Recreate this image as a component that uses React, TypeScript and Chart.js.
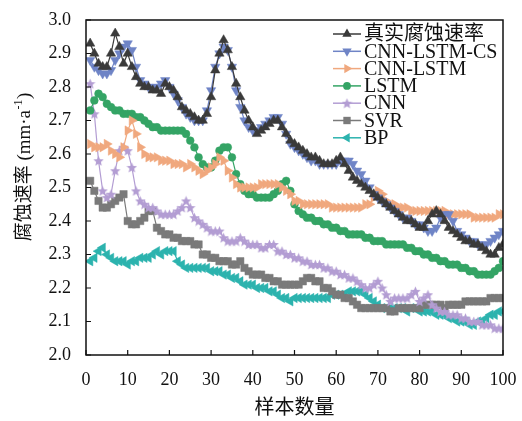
import React, { useEffect, useRef } from 'react';
import { Chart, registerables } from 'chart.js';

Chart.register(...registerables);

// ---------- data ----------
const sampleNo: number[] = Array.from({ length: 100 }, (_, i) => i + 1);

const xTickValues = [0, 10, 20, 30, 40, 50, 60, 70, 80, 90, 100];
const yTickValues = [2.0, 2.1, 2.2, 2.3, 2.4, 2.5, 2.6, 2.7, 2.8, 2.9, 3.0];

const seriesNames = ['真实腐蚀速率', 'CNN-LSTM-CS', 'CNN-LSTM', 'LSTM', 'CNN', 'SVR', 'BP'];

const realRate = [
  2.93, 2.90, 2.87, 2.86, 2.86, 2.90, 2.96, 2.92, 2.87, 2.90,
  2.86, 2.83, 2.81, 2.80, 2.80, 2.79, 2.79, 2.78, 2.81, 2.80,
  2.79, 2.77, 2.74, 2.73, 2.72, 2.71, 2.70, 2.70, 2.72, 2.77,
  2.85, 2.90, 2.94, 2.91, 2.86, 2.81, 2.77, 2.73, 2.70, 2.68,
  2.66, 2.67, 2.68, 2.69, 2.70, 2.70, 2.68, 2.66, 2.64, 2.63,
  2.62, 2.61, 2.60, 2.59, 2.59, 2.58, 2.57, 2.57, 2.57, 2.58,
  2.59, 2.57, 2.55, 2.53, 2.52, 2.51, 2.50, 2.49, 2.48, 2.47,
  2.46, 2.45, 2.44, 2.43, 2.42, 2.41, 2.40, 2.40, 2.39, 2.38,
  2.38, 2.40, 2.42, 2.43, 2.42, 2.40, 2.38, 2.37, 2.36, 2.35,
  2.34, 2.34, 2.33, 2.33, 2.32, 2.31, 2.30, 2.30, 2.32, 2.33,
];

const cnnLstmCs = [
  2.88, 2.86, 2.85, 2.84, 2.84, 2.85, 2.88, 2.90, 2.92, 2.93,
  2.91, 2.86, 2.82, 2.81, 2.80, 2.80, 2.80, 2.81, 2.82, 2.80,
  2.78, 2.76, 2.74, 2.72, 2.71, 2.70, 2.70, 2.70, 2.73, 2.79,
  2.86, 2.90, 2.92, 2.91, 2.86, 2.79, 2.74, 2.70, 2.68, 2.67,
  2.67, 2.68, 2.69, 2.70, 2.71, 2.71, 2.69, 2.66, 2.63, 2.62,
  2.61, 2.60, 2.59, 2.58, 2.58, 2.57, 2.57, 2.57, 2.57, 2.57,
  2.58, 2.58, 2.58, 2.57, 2.55, 2.54, 2.52, 2.50, 2.48, 2.47,
  2.46, 2.45, 2.44, 2.43, 2.42, 2.41, 2.41, 2.40, 2.39, 2.39,
  2.38, 2.37, 2.37, 2.38, 2.41, 2.42, 2.42, 2.40, 2.37, 2.36,
  2.35, 2.34, 2.34, 2.33, 2.33, 2.33, 2.34, 2.35, 2.36, 2.37,
];

const cnnLstm = [
  2.63, 2.62, 2.62, 2.62, 2.63, 2.61, 2.60, 2.59, 2.62, 2.67,
  2.70, 2.66, 2.62, 2.60, 2.59, 2.59, 2.59, 2.58, 2.58, 2.58,
  2.57, 2.57, 2.57, 2.56, 2.57, 2.56, 2.55, 2.54, 2.55, 2.56,
  2.57, 2.59, 2.58, 2.55, 2.53, 2.51, 2.50, 2.50, 2.50, 2.50,
  2.50, 2.51, 2.51, 2.51, 2.51, 2.51, 2.50, 2.49, 2.48, 2.46,
  2.46, 2.45, 2.45, 2.45, 2.45, 2.45, 2.45, 2.45, 2.44, 2.44,
  2.44, 2.44, 2.44, 2.44, 2.44, 2.44, 2.45, 2.45, 2.47, 2.49,
  2.48, 2.46, 2.45, 2.45, 2.44, 2.44, 2.44, 2.43, 2.43, 2.43,
  2.43, 2.43, 2.43, 2.43, 2.43, 2.43, 2.42, 2.42, 2.42, 2.42,
  2.42, 2.42, 2.41, 2.41, 2.41, 2.41, 2.41, 2.41, 2.42, 2.42,
];

const lstm = [
  2.73, 2.76, 2.78, 2.77, 2.75, 2.74, 2.73, 2.73, 2.72, 2.72,
  2.72, 2.71, 2.71, 2.70, 2.69, 2.68, 2.68, 2.67, 2.67, 2.67,
  2.67, 2.67, 2.67, 2.66, 2.64, 2.62, 2.59, 2.57, 2.56, 2.56,
  2.58, 2.61, 2.62, 2.62, 2.59, 2.54, 2.51, 2.49, 2.48, 2.48,
  2.47, 2.47, 2.47, 2.47, 2.48, 2.49, 2.51, 2.52, 2.49, 2.45,
  2.43, 2.42, 2.41, 2.41, 2.40, 2.40, 2.39, 2.39, 2.38, 2.38,
  2.37, 2.37, 2.36, 2.36, 2.36, 2.36, 2.35, 2.35, 2.34, 2.34,
  2.34, 2.33, 2.33, 2.33, 2.33, 2.33, 2.32, 2.32, 2.31, 2.31,
  2.30, 2.30, 2.29, 2.29, 2.28, 2.28, 2.27, 2.27, 2.27, 2.26,
  2.26, 2.25, 2.25, 2.24, 2.24, 2.24, 2.24, 2.25, 2.26, 2.28,
];

const cnn = [
  2.81, 2.72, 2.58, 2.49, 2.47, 2.48, 2.55, 2.61, 2.62, 2.61,
  2.56, 2.49, 2.46, 2.45, 2.44, 2.44, 2.43, 2.42, 2.42, 2.42,
  2.42, 2.43, 2.44, 2.46, 2.44, 2.41, 2.40, 2.39, 2.38, 2.37,
  2.37, 2.37, 2.35, 2.34, 2.34, 2.34, 2.35, 2.34, 2.33, 2.33,
  2.33, 2.32, 2.32, 2.33, 2.33, 2.31, 2.31, 2.30, 2.30, 2.29,
  2.29, 2.28, 2.28, 2.27, 2.27, 2.27, 2.26, 2.26, 2.25, 2.25,
  2.24, 2.24, 2.23, 2.23, 2.22, 2.21, 2.20, 2.20, 2.21, 2.22,
  2.20, 2.18, 2.16, 2.17, 2.17, 2.17, 2.17, 2.18, 2.19, 2.16,
  2.17, 2.18, 2.15, 2.14, 2.13, 2.13, 2.12, 2.12, 2.12, 2.11,
  2.11, 2.10, 2.10, 2.10, 2.09, 2.09, 2.09, 2.08, 2.08, 2.08,
];

const svr = [
  2.52, 2.49, 2.46, 2.44, 2.44, 2.45, 2.46, 2.47, 2.48, 2.40,
  2.39, 2.39, 2.40, 2.41, 2.43, 2.43, 2.38, 2.37, 2.36, 2.36,
  2.35, 2.35, 2.34, 2.34, 2.34, 2.33, 2.33, 2.30, 2.30, 2.29,
  2.29, 2.28, 2.28, 2.28, 2.27, 2.27, 2.28, 2.26, 2.25, 2.24,
  2.24, 2.24, 2.23, 2.23, 2.22, 2.22, 2.21, 2.21, 2.21, 2.21,
  2.21, 2.22, 2.23, 2.23, 2.22, 2.22, 2.20, 2.20, 2.19, 2.18,
  2.18, 2.17, 2.17, 2.16, 2.15, 2.14, 2.14, 2.14, 2.14, 2.14,
  2.14, 2.14, 2.13, 2.13, 2.14, 2.14, 2.14, 2.14, 2.14, 2.14,
  2.15, 2.15, 2.15, 2.15, 2.15, 2.14, 2.15, 2.15, 2.15, 2.15,
  2.16, 2.16, 2.16, 2.16, 2.16, 2.16, 2.17, 2.17, 2.17, 2.17,
];

const bp = [
  2.28, 2.29, 2.31, 2.32, 2.30, 2.29, 2.28, 2.28, 2.28, 2.27,
  2.28, 2.28, 2.29, 2.29, 2.29, 2.30, 2.31, 2.30, 2.31, 2.31,
  2.31, 2.28, 2.27, 2.26, 2.26, 2.26, 2.26, 2.26, 2.26, 2.25,
  2.25, 2.25, 2.24, 2.24, 2.23, 2.23, 2.22, 2.21, 2.21, 2.21,
  2.20, 2.20, 2.20, 2.19, 2.19, 2.18, 2.17, 2.17, 2.16, 2.17,
  2.17, 2.17, 2.17, 2.17, 2.17, 2.17, 2.17, 2.17, 2.18, 2.18,
  2.18, 2.18, 2.19, 2.19, 2.19, 2.19, 2.18, 2.17, 2.16, 2.15,
  2.14, 2.14, 2.14, 2.14, 2.14, 2.14, 2.13, 2.14, 2.14, 2.13,
  2.13, 2.13, 2.13, 2.12, 2.12, 2.12, 2.11, 2.11, 2.10, 2.10,
  2.10, 2.09, 2.09, 2.10, 2.10, 2.11, 2.12, 2.12, 2.13, 2.13,
];

const seriesValues = [realRate, cnnLstmCs, cnnLstm, lstm, cnn, svr, bp];

const xTitle = '样本数量';
const yTitleMain = '腐蚀速率 (mm·a';
const yTitleSup = '-1';
const yTitleEnd = ')';

// ---------- styles ----------
const SERIF = "'Liberation Serif', 'Noto Sans CJK SC', serif";
const TICK_FAMILY = 'Liberation Serif';

type MarkerStyle = { color: string; shape: string; rot: number; r: number };
const markerStyles: MarkerStyle[] = [
  { color: '#3a3a3a', shape: 'triangle', rot: 0, r: 5.4 },
  { color: '#6f84c6', shape: 'triangle', rot: 180, r: 5.4 },
  { color: '#f0a87e', shape: 'triangle', rot: 90, r: 5.4 },
  { color: '#34a465', shape: 'circle', rot: 0, r: 3.9 },
  { color: '#b39dd3', shape: 'star', rot: 0, r: 5 },
  { color: '#7a7a7a', shape: 'rect', rot: 0, r: 5.2 },
  { color: '#2cb3ae', shape: 'triangle', rot: -90, r: 5.4 },
];

function makeStar(color: string, size: number): HTMLCanvasElement {
  const c = document.createElement('canvas');
  c.width = size;
  c.height = size;
  const g = c.getContext('2d')!;
  g.fillStyle = color;
  g.beginPath();
  const cx = size / 2, cy = size / 2 + 0.5, R = size / 2, r = R * 0.45;
  for (let k = 0; k < 10; k++) {
    const ang = -Math.PI / 2 + (k * Math.PI) / 5;
    const rr = k % 2 ? r : R;
    g.lineTo(cx + rr * Math.cos(ang), cy + rr * Math.sin(ang));
  }
  g.closePath();
  g.fill();
  return c;
}

function drawMarker(ctx: CanvasRenderingContext2D, m: MarkerStyle, x: number, y: number, star: HTMLCanvasElement) {
  ctx.fillStyle = m.color;
  if (m.shape === 'triangle') {
    let a = (m.rot * Math.PI) / 180;
    ctx.beginPath();
    for (let k = 0; k < 3; k++) {
      ctx.lineTo(x + Math.sin(a) * m.r, y - Math.cos(a) * m.r);
      a += (2 * Math.PI) / 3;
    }
    ctx.closePath();
    ctx.fill();
  } else if (m.shape === 'circle') {
    ctx.beginPath();
    ctx.arc(x, y, m.r, 0, Math.PI * 2);
    ctx.fill();
  } else if (m.shape === 'rect') {
    const s = m.r * Math.SQRT2;
    ctx.fillRect(x - s / 2, y - s / 2, s, s);
  } else if (m.shape === 'star') {
    ctx.drawImage(star, x - star.width / 2, y - star.height / 2);
  }
}

export default function App() {
  const canvasRef = useRef<HTMLCanvasElement | null>(null);

  useEffect(() => {
    const canvas = canvasRef.current;
    if (!canvas) return;
    const star = makeStar(markerStyles[4].color, 11);

    const datasets = seriesNames.map((name, i) => {
      const m = markerStyles[i];
      return {
        label: name,
        data: sampleNo.map((x, k) => ({ x, y: seriesValues[i][k] })),
        borderColor: m.color,
        backgroundColor: m.color,
        borderWidth: 1.2,
        pointStyle: m.shape === 'star' ? star : m.shape,
        rotation: m.rot,
        pointRadius: m.r,
        pointBackgroundColor: m.color,
        pointBorderColor: m.color,
        pointBorderWidth: 0.5,
        tension: 0,
      };
    });

    const framePlugin = {
      id: 'frameAndLegend',
      afterDatasetsDraw(chart: any) {
        const { ctx, chartArea: a, scales } = chart;
        ctx.save();
        // frame
        ctx.strokeStyle = '#111';
        ctx.lineWidth = 1.5;
        ctx.strokeRect(a.left, a.top, a.right - a.left, a.bottom - a.top);
        // inward ticks
        ctx.lineWidth = 1.2;
        ctx.beginPath();
        for (const v of xTickValues) {
          const px = scales.x.getPixelForValue(v);
          ctx.moveTo(px, a.bottom);
          ctx.lineTo(px, a.bottom - 5);
        }
        for (const v of yTickValues) {
          const py = scales.y.getPixelForValue(v);
          ctx.moveTo(a.left, py);
          ctx.lineTo(a.left + 5, py);
        }
        ctx.stroke();
        // legend
        const lx0 = 333, lx1 = 361, tx = 364;
        let ly = 34;
        ctx.font = `20px ${SERIF}`;
        ctx.textBaseline = 'middle';
        ctx.textAlign = 'left';
        seriesNames.forEach((name, i) => {
          const m = markerStyles[i];
          ctx.strokeStyle = m.color;
          ctx.lineWidth = 1.5;
          ctx.beginPath();
          ctx.moveTo(lx0, ly);
          ctx.lineTo(lx1, ly);
          ctx.stroke();
          drawMarker(ctx, m, (lx0 + lx1) / 2, ly, star);
          ctx.fillStyle = '#111';
          ctx.fillText(name, tx, ly + 1);
          ly += 17.3;
        });
        // y title with superscript
        ctx.translate(25, 167);
        ctx.rotate(-Math.PI / 2);
        ctx.textBaseline = 'middle';
        ctx.textAlign = 'left';
        ctx.fillStyle = '#111';
        const mainFont = `19px ${SERIF}`;
        const supFont = `12px ${SERIF}`;
        ctx.font = mainFont;
        const w1 = ctx.measureText(yTitleMain).width;
        const w3 = ctx.measureText(yTitleEnd).width;
        ctx.font = supFont;
        const w2 = ctx.measureText(yTitleSup).width;
        const total = w1 + w2 + w3 + 1;
        let cx = -total / 2;
        ctx.font = mainFont;
        ctx.fillText(yTitleMain, cx, 0);
        cx += w1 + 0.5;
        ctx.font = supFont;
        ctx.fillText(yTitleSup, cx, -6);
        cx += w2 + 0.5;
        ctx.font = mainFont;
        ctx.fillText(yTitleEnd, cx, 0);
        ctx.restore();
      },
    };

    const chart = new Chart(canvas, {
      type: 'line',
      data: { datasets },
      options: {
        animation: false,
        responsive: false,
        maintainAspectRatio: false,
        layout: { padding: { left: 0, top: 20, right: 19, bottom: 0 } },
        plugins: {
          legend: { display: false },
          tooltip: { enabled: false },
        },
        scales: {
          x: {
            type: 'linear',
            min: 0,
            max: 100,
            afterFit: (s: any) => { s.height = 66; s.paddingLeft = 0; s.paddingRight = 0; },
            afterBuildTicks: (s: any) => { s.ticks = xTickValues.map((v) => ({ value: v })); },
            grid: { display: false, drawTicks: false },
            border: { display: false },
            ticks: {
              padding: 14,
              color: '#111',
              font: { family: TICK_FAMILY, size: 18 },
              callback: (v: any) => String(v),
              maxRotation: 0,
            },
            title: {
              display: true,
              text: xTitle,
              color: '#111',
              font: { family: SERIF, size: 20 },
              padding: 0,
            },
          },
          y: {
            type: 'linear',
            min: 2.0,
            max: 3.0,
            afterFit: (s: any) => { s.width = 86; s.paddingTop = 0; s.paddingBottom = 0; },
            afterBuildTicks: (s: any) => { s.ticks = yTickValues.map((v) => ({ value: v })); },
            grid: { display: false, drawTicks: false },
            border: { display: false },
            ticks: {
              padding: 15,
              color: '#111',
              font: { family: TICK_FAMILY, size: 18 },
              callback: (v: any) => Number(v).toFixed(1),
            },
          },
        },
      },
      plugins: [framePlugin],
    });

    return () => chart.destroy();
  }, []);

  return (
    <div style={{ position: 'fixed', left: 0, top: 0, width: 522, height: 421, background: '#fff' }}>
      <canvas ref={canvasRef} width={522} height={421} style={{ width: 522, height: 421, display: 'block' }} />
    </div>
  );
}
